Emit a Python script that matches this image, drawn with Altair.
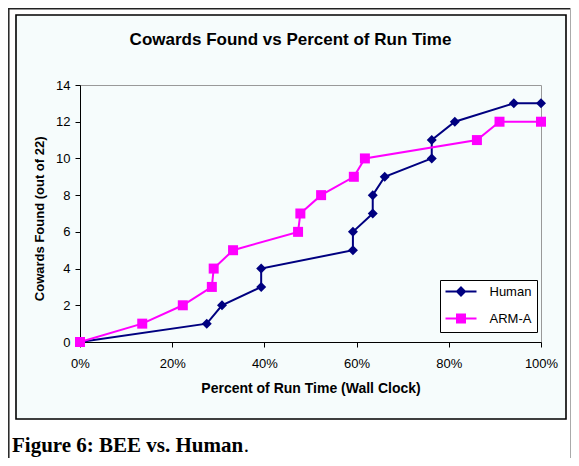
import altair as alt
import pandas as pd

# ---------------- data ----------------
series_names = ["Human", "ARM-A"]
series_colors = ["#000080", "#FF00FF"]

human_pct = [0, 27.5, 30.8, 39.3, 39.3, 59.2, 59.2, 63.5, 63.5, 66.1, 76.3, 76.3, 81.3, 94.1, 100]
human_found = [0, 1, 2, 3, 4, 5, 6, 7, 8, 9, 10, 11, 12, 13, 13]

arm_pct = [0, 13.5, 22.3, 28.6, 29.0, 33.2, 47.3, 47.8, 52.3, 59.4, 61.8, 86.1, 91.0, 100]
arm_found = [0, 1, 2, 3, 4, 5, 6, 7, 8, 9, 10, 11, 12, 12]

x_ticks = [0, 20, 40, 60, 80, 100]
y_ticks = [0, 2, 4, 6, 8, 10, 12, 14]

title_text = "Cowards Found vs Percent of Run Time"
x_title = "Percent of Run Time (Wall Clock)"
y_title = "Cowards Found (out of 22)"
caption_text = "Figure 6: BEE vs. Human"
caption_end = "."

# ---------------- tables ----------------
df = pd.concat([
    pd.DataFrame({"pct": human_pct, "found": human_found, "series": "Human",
                  "idx": range(len(human_pct))}),
    pd.DataFrame({"pct": arm_pct, "found": arm_found, "series": "ARM-A",
                  "idx": range(len(arm_pct))}),
], ignore_index=True)

one = pd.DataFrame({"k": [0]})

SANS = "Liberation Sans"
SERIF = "Liberation Serif"
BOX_FILL = "#F6FCFC"

# legend symbols: line segment + solid marker (drawn with strokes only)
DIAMOND_PATH = ("M-3.1,0L3.1,0"
                "M0,-0.8L0.8,0L0,0.8L-0.8,0Z"
                "M0,-0.4L0.4,0L0,0.4L-0.4,0Z"
                "M0,-0.05L0.05,0L0,0.05L-0.05,0Z")
SQUARE_PATH = ("M-3.1,0L3.1,0"
               "M-0.8,-0.8L0.8,-0.8L0.8,0.8L-0.8,0.8Z"
               "M-0.45,-0.45L0.45,-0.45L0.45,0.45L-0.45,0.45Z"
               "M-0.1,-0.1L0.1,-0.1L0.1,0.1L-0.1,0.1Z")

x_enc = alt.X(
    "pct:Q",
    scale=alt.Scale(domain=[0, 100], nice=False, zero=False),
    axis=alt.Axis(values=x_ticks, labelExpr="datum.value + '%'", title=x_title,
                  titleX=230.5, titleY=50, titleAlign="center", titleBaseline="alphabetic",
                  titleFontSize=14, labelPadding=10, tickSize=5, labelFlush=False,
                  grid=False, labelOverlap=False),
)
y_enc = alt.Y(
    "found:Q",
    scale=alt.Scale(domain=[0, 14], nice=False),
    axis=alt.Axis(values=y_ticks, title=y_title, titleX=-37, titleY=133.3,
                  titleAngle=270, titleAlign="center", titleBaseline="alphabetic",
                  titleFontSize=13, labelPadding=5, tickSize=5, labelFlush=False,
                  grid=False, labelOverlap=False),
)

base = alt.Chart(df)


def white_rect(x0, x1, y0, y1):
    return alt.Chart(one).mark_rect(color="white", strokeWidth=0).encode(
        x=alt.value(x0), x2=alt.value(x1), y=alt.value(y0), y2=alt.value(y1))


decor = [
    white_rect(-72, -64, -77, 373),
    white_rect(-72, 491, -77, -70),
    white_rect(486, 491, -77, 373),
    white_rect(-72, 491, 334, 373),
    alt.Chart(one).mark_rect(fillOpacity=0, stroke="black", strokeWidth=1.6).encode(
        x=alt.value(-64), x2=alt.value(486), y=alt.value(-70), y2=alt.value(334)),
    alt.Chart(one).mark_rule(color="#222222", strokeWidth=1.5).encode(
        x=alt.value(-71.2), y=alt.value(-77), y2=alt.value(373)),
    alt.Chart(one).mark_rule(color="#222222", strokeWidth=1.5).encode(
        x=alt.value(-72), x2=alt.value(491), y=alt.value(-76.2)),
    alt.Chart(one).mark_rule(color="#AAAAAA", strokeWidth=1).encode(
        x=alt.value(490.5), y=alt.value(-77), y2=alt.value(373)),
]

series_layers = []
for name, color, shape in zip(series_names, series_colors, ["diamond", "square"]):
    sub = base.transform_filter(alt.datum.series == name)
    series_layers.append(
        sub.mark_line(color=color, strokeWidth=2).encode(x=x_enc, y=y_enc, order="idx:Q"))
    series_layers.append(
        sub.mark_point(shape=shape, filled=True, color=color, size=100, opacity=1,
                       strokeWidth=0).encode(x=x_enc, y=y_enc))

legend_kw = dict(
    title=None, orient="none", legendX=360, legendY=195, padding=5,
    fillColor="white", strokeColor="black", cornerRadius=0,
    symbolSize=100, symbolStrokeWidth=2, symbolOpacity=1, symbolOffset=9.5,
    labelOffset=22, labelFont=SANS, labelFontSize=13, labelColor="black",
    rowPadding=10,
)

legend_layer = base.mark_point(opacity=0, filled=False, size=100, strokeWidth=2).encode(
    x=x_enc, y=y_enc,
    color=alt.Color("series:N", sort=series_names,
                    scale=alt.Scale(domain=series_names, range=series_colors),
                    legend=alt.Legend(**legend_kw)),
    shape=alt.Shape("series:N", sort=series_names,
                    scale=alt.Scale(domain=series_names, range=[DIAMOND_PATH, SQUARE_PATH]),
                    legend=alt.Legend(**legend_kw)),
)

title_layer = alt.Chart(pd.DataFrame({"t": [title_text]})).mark_text(
    font=SANS, fontSize=17, fontWeight="bold", align="center", baseline="alphabetic",
    color="black").encode(text="t:N", x=alt.value(210.5), y=alt.value(-40))

caption_layer = alt.Chart(pd.DataFrame({"t": [caption_text]})).mark_text(
    font=SERIF, fontSize=21, fontWeight="bold", align="left", baseline="alphabetic",
    color="black").encode(text="t:N", x=alt.value(-68), y=alt.value(366.5))

caption_end_layer = alt.Chart(pd.DataFrame({"t": [caption_end]})).mark_text(
    font=SERIF, fontSize=21, fontWeight="normal", align="left", baseline="alphabetic",
    color="black").encode(text="t:N", x=alt.value(163.8), y=alt.value(366.5))

chart = alt.layer(*decor, *series_layers, legend_layer, title_layer, caption_layer,
                  caption_end_layer).properties(
    width=461, height=257,
    autosize=alt.AutoSizeParams(type="none"),
    padding={"left": 72, "top": 77, "right": 30, "bottom": 116},
    background=BOX_FILL,
).configure_view(
    stroke="#999999", strokeWidth=1,
).configure_axis(
    domainColor="black", domainWidth=1, tickColor="black", tickWidth=1,
    labelColor="black", labelFont=SANS, labelFontSize=13,
    titleColor="black", titleFont=SANS, titleFontWeight="bold",
)

chart.save("out.html", embed_options={"renderer": "svg", "actions": False})
